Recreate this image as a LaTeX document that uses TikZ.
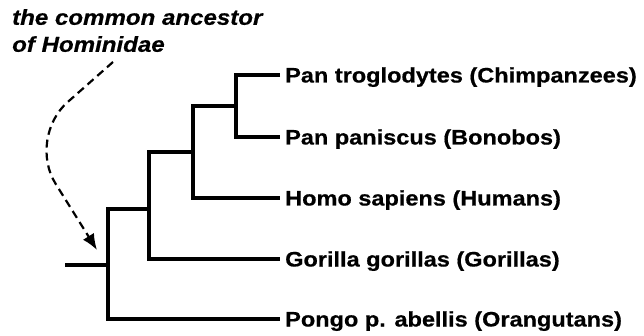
\documentclass[tikz,border=0pt]{standalone}
\usepackage{fontspec}
\newfontfamily\treefont[FakeStretch=1.12,
  BoldFeatures={FakeBold=0.6},BoldItalicFeatures={FakeBold=0.6}]{Liberation Sans}
\usetikzlibrary{arrows.meta}
\definecolor{ink}{HTML}{000000}

\begin{document}
\begin{tikzpicture}[x=1pt,y=-1pt,
  branch/.style={ink,line width=3.2pt,line join=miter},
  leaf/.style={anchor=west,inner xsep=5pt,inner ysep=0pt,text height=15pt,text depth=0pt,
    font=\treefont\bfseries\fontsize{21}{25}\selectfont},
  note/.style={anchor=north west,align=left,inner sep=0pt,
    font=\treefont\bfseries\itshape\fontsize{21.5}{27}\selectfont}]
  \useasboundingbox (0,0) rectangle (644,336);
  % taxa
  \node[leaf] (chimp) at (280,75) {Pan troglodytes (Chimpanzees)};
  \node[leaf] (bonobo) at (280,137) {Pan paniscus (Bonobos)};
  \node[leaf] (human) at (280,198) {Homo sapiens (Humans)};
  \node[leaf] (gorilla) at (280,259) {Gorilla gorillas (Gorillas)};
  \node[leaf] (orang) at (280,319) {Pongo p. abellis (Orangutans)};
  % splits
  \coordinate (pan) at (236,106);
  \coordinate (hominini) at (193,152);
  \coordinate (homininae) at (149,209);
  \coordinate (hominidae) at (108,265);
  \coordinate (stem) at (65,265);
  % branches
  \draw[branch] (chimp.west) -| (pan) |- (bonobo.west);
  \draw[branch] (pan) -| (hominini) |- (human.west);
  \draw[branch] (hominini) -| (homininae) |- (gorilla.west);
  \draw[branch] (homininae) -| (hominidae) |- (orang.west);
  \draw[branch] (hominidae) -- (stem);
  % annotation
  \node[note] (ancestor) at (12,9) {the common ancestor\\of Hominidae};
  \coordinate (from) at (113,62);
  \coordinate (tip) at (97,250);
  \draw[ink,line width=2.2pt,dash pattern=on 8pt off 5pt,rounded corners=54pt,
    -{Latex[length=16pt,width=13pt]}] (from) -- (27,138) -- (tip);
\end{tikzpicture}
\end{document}
